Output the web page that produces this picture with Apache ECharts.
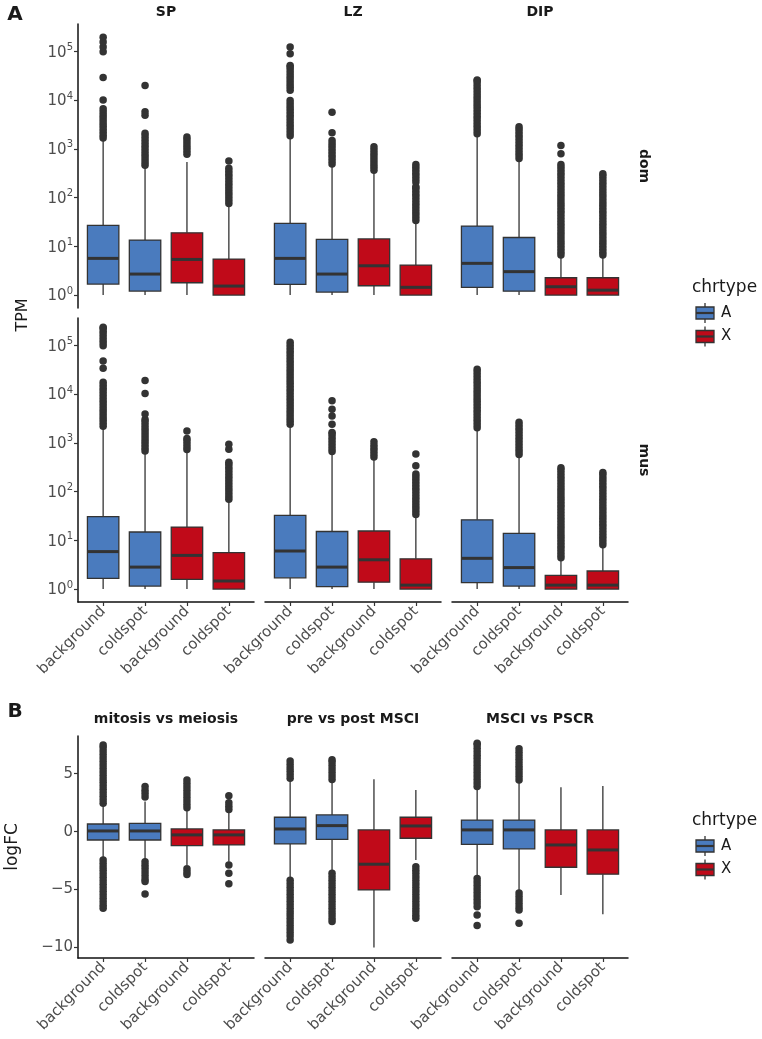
<!DOCTYPE html>
<html>
<head>
<meta charset="utf-8">
<script src="https://cdn.jsdelivr.net/npm/echarts@6/dist/echarts.min.js"></script>
<style>
html,body{margin:0;padding:0;background:#fff;}
#chart{width:762px;height:1039px;}
</style>
</head>
<body>
<div id="chart"></div>
<script>
// ---------- categories ----------
const groups = ['background', 'coldspot', 'background', 'coldspot'];
const chrtypes = ['A', 'A', 'X', 'X'];
const stagesA = ['SP', 'LZ', 'DIP'];
const rowsA = ['dom', 'mus'];
const contrastsB = ['mitosis vs meiosis', 'pre vs post MSCI', 'MSCI vs PSCR'];
const tpmTicks = [0, 1, 2, 3, 4, 5];          // log10(TPM) tick positions (10^n)
const logfcTicks = [-10, -5, 0, 5];

// ---------- Panel A: log10(TPM) box stats [min, q1, median, q3, max] ----------
const box_dom_SP  = [[0, 0.225, 0.752, 1.428, 3.18], [0, 0.082, 0.43, 1.127, 2.63], [0, 0.252, 0.73, 1.277, 2.73], [0, 0, 0.184, 0.738, 1.84]];
const box_dom_LZ  = [[0, 0.219, 0.752, 1.47, 3.24], [0, 0.06, 0.43, 1.14, 2.66], [0, 0.19, 0.6, 1.15, 2.53], [0, 0, 0.158, 0.615, 1.5]];
const box_dom_DIP = [[0, 0.158, 0.65, 1.414, 3.28], [0, 0.08, 0.48, 1.18, 2.77], [0, 0, 0.17, 0.355, 0.785], [0, 0, 0.1, 0.355, 0.785]];
const box_mus_SP  = [[0, 0.22, 0.768, 1.487, 3.31], [0, 0.06, 0.45, 1.17, 2.8], [0, 0.2, 0.69, 1.27, 2.83], [0, 0, 0.165, 0.747, 1.81]];
const box_mus_LZ  = [[0, 0.23, 0.78, 1.51, 3.35], [0, 0.05, 0.45, 1.18, 2.79], [0, 0.14, 0.6, 1.19, 2.68], [0, 0, 0.08, 0.62, 1.5]];
const box_mus_DIP = [[0, 0.13, 0.63, 1.42, 3.28], [0, 0.06, 0.44, 1.14, 2.73], [0, 0, 0.08, 0.28, 0.61], [0, 0, 0.08, 0.37, 0.88]];

// ---------- Panel A: outliers log10(TPM), one list per box ----------
const out_dom_SP = [
  [3.22,3.28,3.34,3.40,3.46,3.52,3.58,3.64,3.70,3.76,3.82,4.0,4.46,4.99,5.09,5.19,5.29],
  [2.66,2.72,2.78,2.84,2.90,2.96,3.02,3.08,3.14,3.20,3.26,3.32,3.69,3.76,4.30],
  [2.89,2.95,3.01,3.07,3.13,3.19,3.24],
  [1.88,1.94,2.00,2.06,2.12,2.18,2.24,2.30,2.36,2.42,2.48,2.54,2.60,2.75]
];
const out_dom_LZ = [
  [3.27,3.33,3.39,3.45,3.51,3.57,3.63,3.69,3.75,3.81,3.87,3.93,3.99,4.20,4.26,4.32,4.38,4.44,4.50,4.56,4.62,4.68,4.71,4.95,5.09],
  [2.69,2.75,2.81,2.87,2.93,2.99,3.05,3.11,3.17,3.33,3.75],
  [2.56,2.62,2.68,2.74,2.80,2.86,2.92,2.98,3.04],
  [1.53,1.59,1.65,1.71,1.77,1.83,1.89,1.95,2.01,2.07,2.13,2.19,2.22,2.32,2.38,2.44,2.50,2.56,2.62,2.68]
];
const out_dom_DIP = [
  [3.31,3.37,3.43,3.49,3.55,3.61,3.67,3.73,3.79,3.85,3.91,3.97,4.03,4.09,4.15,4.21,4.27,4.33,4.39,4.41],
  [2.80,2.86,2.92,2.98,3.04,3.10,3.16,3.22,3.28,3.34,3.40,3.45],
  [0.82,0.88,0.94,1.00,1.06,1.12,1.18,1.24,1.30,1.36,1.42,1.48,1.54,1.60,1.66,1.72,1.78,1.84,1.90,1.96,2.02,2.08,2.14,2.20,2.26,2.32,2.38,2.44,2.50,2.56,2.62,2.68,2.90,3.07],
  [0.82,0.88,0.94,1.00,1.06,1.12,1.18,1.24,1.30,1.36,1.42,1.48,1.54,1.60,1.66,1.72,1.78,1.84,1.90,1.96,2.02,2.08,2.14,2.20,2.26,2.32,2.38,2.44,2.49]
];
const out_mus_SP = [
  [3.34,3.40,3.46,3.52,3.58,3.64,3.70,3.76,3.82,3.88,3.94,4.00,4.06,4.12,4.18,4.24,4.53,4.68,4.99,5.05,5.11,5.17,5.23,5.29,5.35,5.37],
  [2.83,2.89,2.95,3.01,3.07,3.13,3.19,3.25,3.31,3.37,3.43,3.48,3.59,4.01,4.28],
  [2.86,2.92,2.98,3.04,3.09,3.24],
  [1.84,1.90,1.96,2.02,2.08,2.14,2.20,2.26,2.32,2.38,2.44,2.50,2.56,2.60,2.87,2.97]
];
const out_mus_LZ = [
  [3.38,3.44,3.50,3.56,3.62,3.68,3.74,3.80,3.86,3.92,3.98,4.04,4.10,4.16,4.22,4.28,4.34,4.40,4.46,4.52,4.58,4.64,4.70,4.76,4.82,4.88,4.94,5.00,5.06],
  [2.82,2.88,2.94,3.00,3.06,3.12,3.18,3.21,3.38,3.55,3.69,3.86],
  [2.71,2.77,2.83,2.89,2.95,3.02],
  [1.53,1.59,1.65,1.71,1.77,1.83,1.89,1.95,2.01,2.07,2.13,2.19,2.25,2.31,2.36,2.53,2.77]
];
const out_mus_DIP = [
  [3.31,3.37,3.43,3.49,3.55,3.61,3.67,3.73,3.79,3.85,3.91,3.97,4.03,4.09,4.15,4.21,4.27,4.33,4.39,4.45,4.51],
  [2.76,2.82,2.88,2.94,3.00,3.06,3.12,3.18,3.24,3.30,3.36,3.42],
  [0.64,0.70,0.76,0.82,0.88,0.94,1.00,1.06,1.12,1.18,1.24,1.30,1.36,1.42,1.48,1.54,1.60,1.66,1.72,1.78,1.84,1.90,1.96,2.02,2.08,2.14,2.20,2.26,2.32,2.38,2.44,2.49],
  [0.91,0.97,1.03,1.09,1.15,1.21,1.27,1.33,1.39,1.45,1.51,1.57,1.63,1.69,1.75,1.81,1.87,1.93,1.99,2.05,2.11,2.17,2.23,2.29,2.35,2.39]
];

// ---------- Panel B: logFC box stats [min, q1, median, q3, max] ----------
const box_mitosis = [[-2.3, -0.72, 0.06, 0.66, 2.3], [-2.44, -0.72, 0.06, 0.72, 2.6], [-2.87, -1.2, -0.28, 0.23, 1.85], [-2.59, -1.15, -0.28, 0.15, 1.63]];
const box_prepost = [[-4.0, -1.06, 0.23, 1.24, 4.4], [-3.45, -0.66, 0.52, 1.44, 4.3], [-10.0, -5.03, -2.81, 0.15, 4.52], [-2.44, -0.57, 0.49, 1.24, 3.6]];
const box_pscr    = [[-3.9, -1.09, 0.15, 1.0, 3.75], [-5.2, -1.49, 0.15, 1.0, 4.2], [-5.46, -3.07, -1.15, 0.15, 3.83], [-7.12, -3.67, -1.58, 0.15, 3.94]];

// ---------- Panel B: outliers logFC ----------
const out_mitosis = [
  [2.45,2.75,3.05,3.35,3.65,3.95,4.25,4.55,4.85,5.15,5.45,5.75,6.05,6.35,6.65,6.95,7.25,7.47,-2.44,-2.74,-3.04,-3.34,-3.64,-3.94,-4.24,-4.54,-4.84,-5.14,-5.44,-5.74,-6.04,-6.34,-6.6],
  [2.98,3.28,3.58,3.9,-2.59,-2.89,-3.19,-3.49,-3.79,-4.09,-4.3,-5.37],
  [2.05,2.35,2.65,2.95,3.25,3.55,3.85,4.15,4.45,-3.2,-3.45,-3.7],
  [1.9,2.2,2.5,3.1,-2.87,-3.59,-4.5]
];
const out_prepost = [
  [4.6,4.9,5.2,5.5,5.8,6.1,-4.2,-4.5,-4.8,-5.1,-5.4,-5.7,-6.0,-6.3,-6.6,-6.9,-7.2,-7.5,-7.8,-8.1,-8.4,-8.7,-9.0,-9.34],
  [4.5,4.8,5.1,5.4,5.7,6.0,6.2,-3.6,-3.9,-4.2,-4.5,-4.8,-5.1,-5.4,-5.7,-6.0,-6.3,-6.6,-6.9,-7.2,-7.5,-7.76],
  [],
  [-3.02,-3.32,-3.62,-3.92,-4.22,-4.52,-4.82,-5.12,-5.42,-5.72,-6.02,-6.32,-6.62,-6.92,-7.22,-7.47]
];
const out_pscr = [
  [3.9,4.2,4.5,4.8,5.1,5.4,5.7,6.0,6.3,6.6,6.9,7.2,7.5,7.62,-4.05,-4.35,-4.65,-4.95,-5.25,-5.55,-5.85,-6.15,-6.47,-7.18,-8.1],
  [4.45,4.75,5.05,5.35,5.65,5.95,6.25,6.55,6.85,7.15,-5.3,-5.6,-5.9,-6.2,-6.5,-6.75,-7.9],
  [],
  []
];

// ---------- styling / layout ----------
const BLUE = '#4A7BBE', RED = '#C00A19', DARK = '#333333';
const FONT = '"DejaVu Sans", "Liberation Sans", sans-serif';
const TICKC = '#4D4D4D';
const colLeft = [78, 265, 452], colW = 176;
const rowTopA = [24, 318], hA = 284, topB = 736, hB = 222;
const yRangeA = [-0.266, 5.56], yRangeB = [-10.9, 8.25];

const facets = [
  {box: box_dom_SP, out: out_dom_SP, col: 0, top: rowTopA[0], h: hA, yr: yRangeA, xlab: false, kind: 'A'},
  {box: box_dom_LZ, out: out_dom_LZ, col: 1, top: rowTopA[0], h: hA, yr: yRangeA, xlab: false, kind: 'A'},
  {box: box_dom_DIP, out: out_dom_DIP, col: 2, top: rowTopA[0], h: hA, yr: yRangeA, xlab: false, kind: 'A'},
  {box: box_mus_SP, out: out_mus_SP, col: 0, top: rowTopA[1], h: hA, yr: yRangeA, xlab: true, kind: 'A'},
  {box: box_mus_LZ, out: out_mus_LZ, col: 1, top: rowTopA[1], h: hA, yr: yRangeA, xlab: true, kind: 'A'},
  {box: box_mus_DIP, out: out_mus_DIP, col: 2, top: rowTopA[1], h: hA, yr: yRangeA, xlab: true, kind: 'A'},
  {box: box_mitosis, out: out_mitosis, col: 0, top: topB, h: hB, yr: yRangeB, xlab: true, kind: 'B'},
  {box: box_prepost, out: out_prepost, col: 1, top: topB, h: hB, yr: yRangeB, xlab: true, kind: 'B'},
  {box: box_pscr, out: out_pscr, col: 2, top: topB, h: hB, yr: yRangeB, xlab: true, kind: 'B'}
];

function renderBox(params, api) {
  const i = api.value(0);
  const mn = api.value(1), q1 = api.value(2), md = api.value(3), q3 = api.value(4), mx = api.value(5);
  const pMd = api.coord([i, md]);
  const pMn = api.coord([i, mn]), pQ1 = api.coord([i, q1]), pQ3 = api.coord([i, q3]), pMx = api.coord([i, mx]);
  const w = api.size([1, 0])[0] * 0.75;
  const cx = pMd[0];
  const fill = chrtypes[i] === 'A' ? BLUE : RED;
  return {
    type: 'group',
    children: [
      {type: 'line', shape: {x1: cx, y1: pMn[1], x2: cx, y2: pQ1[1]}, style: {stroke: DARK, lineWidth: 1.3}},
      {type: 'line', shape: {x1: cx, y1: pQ3[1], x2: cx, y2: pMx[1]}, style: {stroke: DARK, lineWidth: 1.3}},
      {type: 'rect', shape: {x: cx - w / 2, y: pQ3[1], width: w, height: pQ1[1] - pQ3[1]}, style: {fill: fill, stroke: DARK, lineWidth: 1.3}},
      {type: 'line', shape: {x1: cx - w / 2, y1: pMd[1], x2: cx + w / 2, y2: pMd[1]}, style: {stroke: DARK, lineWidth: 3}}
    ]
  };
}

const grid = [], xAxis = [], yAxis = [], series = [];
facets.forEach((f, g) => {
  grid.push({left: colLeft[f.col], top: f.top, width: colW, height: f.h});
  xAxis.push({
    gridIndex: g, type: 'value', min: -0.6, max: 3.6, show: f.xlab,
    axisLine: {show: true, onZero: false, lineStyle: {color: '#111', width: 1.5}},
    axisTick: {show: true, customValues: [0, 1, 2, 3], length: 4, lineStyle: {color: DARK, width: 1.2}},
    axisLabel: {show: true, customValues: [0, 1, 2, 3], formatter: v => groups[v], rotate: 45, margin: 7,
                fontSize: 15, color: TICKC, fontFamily: FONT},
    splitLine: {show: false}
  });
  const first = f.col === 0;
  const isA = f.kind === 'A';
  yAxis.push({
    gridIndex: g, type: 'value', min: f.yr[0], max: f.yr[1],
    axisLine: {show: first, onZero: false, lineStyle: {color: '#111', width: 1.5}},
    axisTick: {show: first, customValues: isA ? tpmTicks : logfcTicks, length: 4, lineStyle: {color: DARK, width: 1.2}},
    axisLabel: {
      show: first, customValues: isA ? tpmTicks : logfcTicks, margin: 5,
      formatter: isA ? (v => '{b|10}{s|' + v + '}') : (v => (v < 0 ? '\u2212' + Math.abs(v) : String(v))),
      fontSize: 15, color: TICKC, fontFamily: FONT,
      rich: {
        b: {fontSize: 15, color: TICKC, fontFamily: FONT, lineHeight: 18, verticalAlign: 'bottom'},
        s: {fontSize: 10, color: TICKC, fontFamily: FONT, lineHeight: 12, verticalAlign: 'top'}
      }
    },
    splitLine: {show: false}
  });
  series.push({
    type: 'custom', xAxisIndex: g, yAxisIndex: g, silent: true, z: 2,
    data: f.box.map((b, i) => [i].concat(b)),
    encode: {x: 0, y: [1, 2, 3, 4, 5]},
    renderItem: renderBox
  });
  const pts = [];
  f.out.forEach((list, i) => list.forEach(v => pts.push([i, v])));
  series.push({
    type: 'scatter', xAxisIndex: g, yAxisIndex: g, silent: true, z: 3,
    symbolSize: 7.5, itemStyle: {color: DARK, opacity: 1}, data: pts
  });
});

// ---------- annotations ----------
const graphic = [];
function txt(text, x, y, font, opts) {
  opts = opts || {};
  graphic.push({
    type: 'text', x: x, y: y, rotation: opts.rot || 0, silent: true,
    style: {text: text, font: font, fill: opts.fill || '#1a1a1a', align: opts.align || 'center', verticalAlign: 'middle'}
  });
}
txt('A', 15, 15, 'bold 20px ' + FONT);
txt('B', 15, 712, 'bold 20px ' + FONT);
stagesA.forEach((s, c) => txt(s, colLeft[c] + colW / 2, 12, 'bold 14px ' + FONT));
contrastsB.forEach((s, c) => txt(s, colLeft[c] + colW / 2, 719, 'bold 14px ' + FONT));
rowsA.forEach((r, k) => txt(r, 644, rowTopA[k] + hA / 2, 'bold 14px ' + FONT, {rot: -Math.PI / 2}));
txt('TPM', 23, 315, '16px ' + FONT, {rot: Math.PI / 2});
txt('logFC', 13, 847, '17px ' + FONT, {rot: Math.PI / 2});

function legend(yTitle) {
  txt('chrtype', 692, yTitle, '17px ' + FONT, {align: 'left'});
  [['A', BLUE], ['X', RED]].forEach((k, j) => {
    const cy = yTitle + 25 + j * 23.5;
    graphic.push({type: 'line', silent: true, shape: {x1: 705, y1: cy - 10, x2: 705, y2: cy + 10}, style: {stroke: DARK, lineWidth: 1.3}});
    graphic.push({type: 'rect', silent: true, shape: {x: 696, y: cy - 6, width: 18, height: 12}, style: {fill: k[1], stroke: DARK, lineWidth: 1.3}});
    graphic.push({type: 'line', silent: true, shape: {x1: 696, y1: cy, x2: 714, y2: cy}, style: {stroke: DARK, lineWidth: 2.2}});
    txt(k[0], 721, cy, '15px ' + FONT, {align: 'left'});
  });
}
legend(288);
legend(821);

const chart = echarts.init(document.getElementById('chart'), null, {renderer: 'canvas'});
chart.setOption({
  backgroundColor: '#ffffff',
  animation: false,
  grid: grid, xAxis: xAxis, yAxis: yAxis, series: series, graphic: graphic
});
</script>
</body>
</html>
